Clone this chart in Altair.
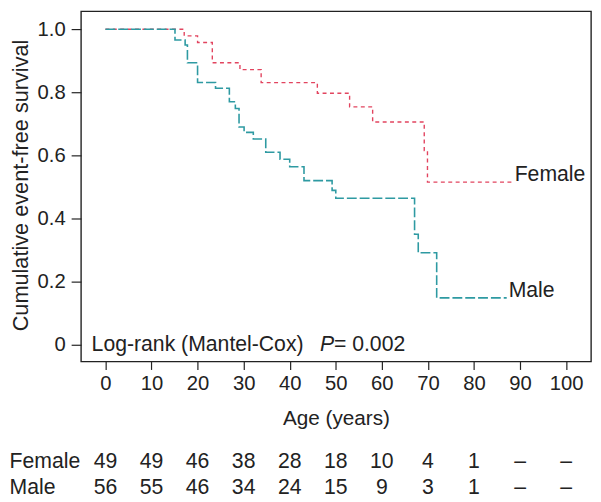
import altair as alt
import pandas as pd

# ---- data ----
female_age = [0, 17.1, 20.0, 23.2, 29.2, 33.8, 46.0, 53.0, 58.0, 69.2, 69.9, 88.4]
female_surv = [1.0, 0.979, 0.958, 0.894, 0.872, 0.831, 0.797, 0.754, 0.706, 0.615, 0.515, 0.515]
male_age = [0, 15.1, 17.3, 17.8, 20.0, 23.9, 26.9, 28.2, 29.0, 30.1, 32.1, 34.8, 37.9,
            40.0, 43.1, 49.2, 50.0, 67.1, 67.9, 71.9, 87.1]
male_surv = [1.0, 0.966, 0.950, 0.894, 0.831, 0.813, 0.770, 0.749, 0.690, 0.673, 0.652,
             0.610, 0.588, 0.564, 0.520, 0.489, 0.464, 0.350, 0.291, 0.148, 0.148]

x_ticks = [0, 10, 20, 30, 40, 50, 60, 70, 80, 90, 100]
y_ticks = [0, 0.2, 0.4, 0.6, 0.8, 1.0]
female_risk = ["49", "49", "46", "38", "28", "18", "10", "4", "1", "–", "–"]
male_risk = ["56", "55", "46", "34", "24", "15", "9", "3", "1", "–", "–"]

FONT = "Liberation Sans"
FS_TICK = 20.5
FS = 21.5
RED = "#e2445f"
TEAL = "#2e9aa2"
INK = "#222222"

xs = alt.Scale(domain=[-5.3, 105.4], nice=False, zero=False)
ys = alt.Scale(domain=[-0.054, 1.057], nice=False, zero=False)

fem = pd.DataFrame({"age": female_age, "surv": female_surv})
mal = pd.DataFrame({"age": male_age, "surv": male_surv})

x_enc = alt.X("age:Q", scale=xs, axis=alt.Axis(
    values=x_ticks, title="Age (years)", tickSize=8, labelPadding=4, domain=False,
    grid=False, labelFontSize=FS_TICK, titleFontSize=21, titleFontWeight="normal",
    titlePadding=14, labelFont=FONT, titleFont=FONT, labelColor=INK, titleColor=INK,
    tickColor=INK, tickWidth=1.2, labelFlush=False))
y_enc = alt.Y("surv:Q", scale=ys, axis=alt.Axis(
    values=y_ticks, title="Cumulative event-free survival", tickSize=10, labelPadding=6,
    domain=False, grid=False, labelFontSize=FS_TICK, titleFontSize=22, titleFontWeight="normal",
    labelFont=FONT, titleFont=FONT, labelColor=INK, titleColor=INK, tickColor=INK,
    tickWidth=1.2,
    labelExpr="datum.value == 0 ? '0' : format(datum.value, '.1f')",
    titleX=-71, titleY=176, titleAngle=-90, titleAlign="center", titleBaseline="top",
    labelFlush=False))

male_line = alt.Chart(mal).mark_line(
    interpolate="step-after", color=TEAL, strokeWidth=1.6, strokeDash=[10, 3]
).encode(x=x_enc, y=y_enc)
female_line = alt.Chart(fem).mark_line(
    interpolate="step-after", color=RED, strokeWidth=1.4, strokeDash=[4, 3.5]
).encode(x=x_enc, y=y_enc)

end_labels = pd.DataFrame({
    "age": [female_age[-1], male_age[-1]],
    "surv": [female_surv[-1], male_surv[-1]],
    "name": ["Female", "Male"],
})
labels = alt.Chart(end_labels).mark_text(
    align="left", baseline="alphabetic", dx=2, dy=-1, fontSize=21.5, font=FONT, color=INK
).encode(x=alt.X("age:Q", scale=xs), y=alt.Y("surv:Q", scale=ys), text="name:N")

p1 = alt.Chart(pd.DataFrame({"age": [-3.0], "surv": [-0.02], "t": ["Log-rank (Mantel-Cox)"]})).mark_text(
    align="left", baseline="alphabetic", fontSize=FS, font=FONT, color=INK
).encode(x=alt.X("age:Q", scale=xs), y=alt.Y("surv:Q", scale=ys), text="t:N")
p2 = alt.Chart(pd.DataFrame({"age": [46.6], "surv": [-0.02], "t": ["P"]})).mark_text(
    align="left", baseline="alphabetic", fontSize=FS, font=FONT, fontStyle="italic", color=INK
).encode(x=alt.X("age:Q", scale=xs), y=alt.Y("surv:Q", scale=ys), text="t:N")
p3 = alt.Chart(pd.DataFrame({"age": [49.6], "surv": [-0.02], "t": ["= 0.002"]})).mark_text(
    align="left", baseline="alphabetic", fontSize=FS, font=FONT, color=INK
).encode(x=alt.X("age:Q", scale=xs), y=alt.Y("surv:Q", scale=ys), text="t:N")

risk = pd.DataFrame({"age": x_ticks, "f": female_risk, "m": male_risk})
f_row = alt.Chart(risk).mark_text(
    align="center", baseline="middle", fontSize=FS, font=FONT, color=INK
).encode(x=alt.X("age:Q", scale=xs), y=alt.value(457), text="f:N")
m_row = alt.Chart(risk).mark_text(
    align="center", baseline="middle", fontSize=FS, font=FONT, color=INK
).encode(x=alt.X("age:Q", scale=xs), y=alt.value(483), text="m:N")

row_names = pd.DataFrame({"age": [-20.8, -20.8], "t": ["Female", "Male"], "py": [457, 483]})
names = alt.Chart(row_names).mark_text(
    align="left", baseline="middle", fontSize=FS, font=FONT, color=INK
).encode(x=alt.X("age:Q", scale=xs), y=alt.Y("py:Q", scale=None), text="t:N")

chart = alt.layer(
    female_line, male_line, labels, p1, p2, p3, f_row, m_row, names
).properties(
    width=517, height=355,
    autosize=alt.AutoSizeParams(type="none"),
    padding={"left": 74, "top": 0, "right": 2, "bottom": 139},
).configure_view(stroke=INK, strokeWidth=1.4)

chart.save("out.html", embed_options={"renderer": "svg", "actions": False})
